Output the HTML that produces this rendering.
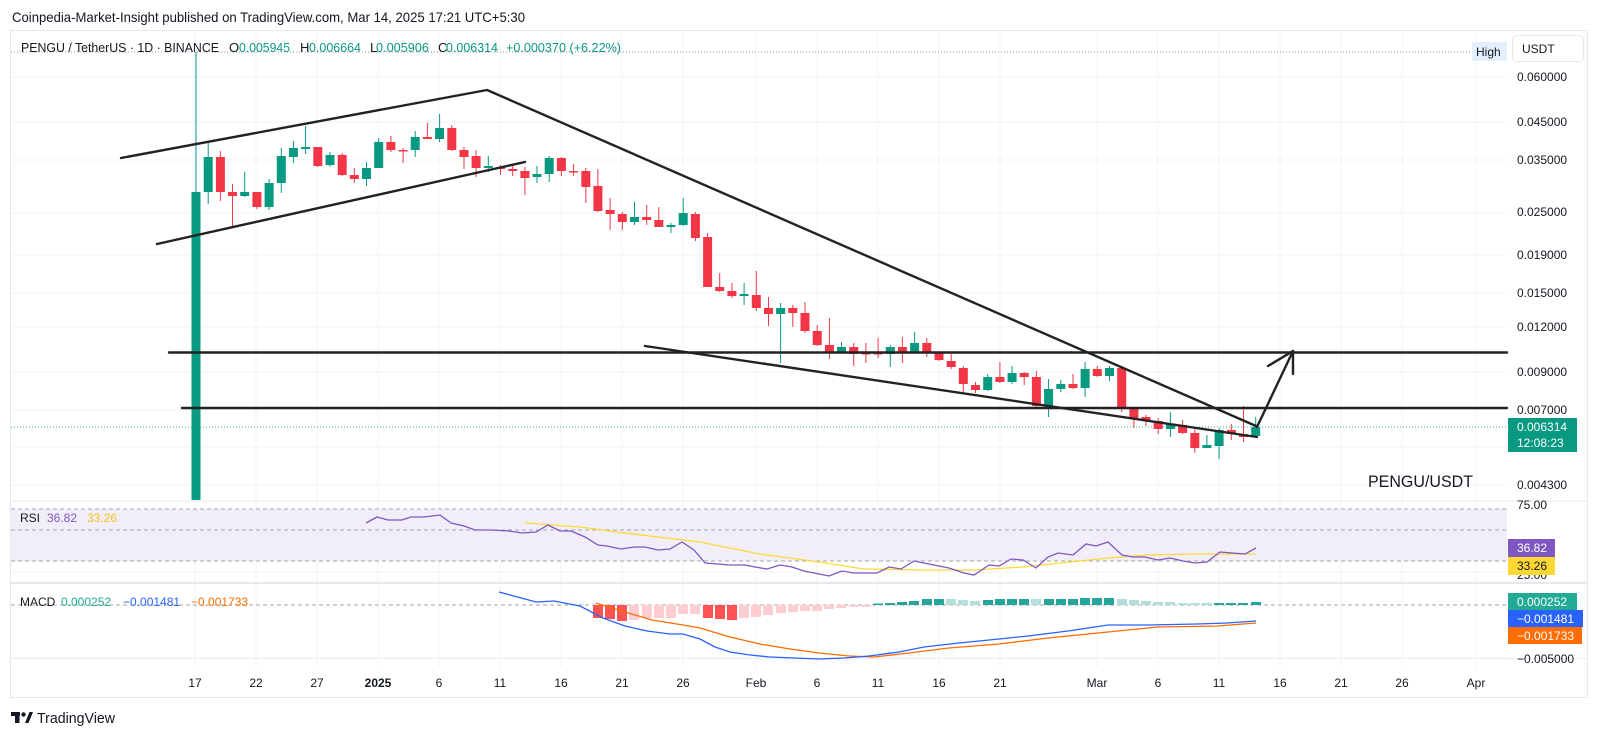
<!DOCTYPE html>
<html><head><meta charset="utf-8"><style>
html,body{margin:0;padding:0;background:#fff;}
svg{display:block;}
text{font-family:"Liberation Sans",Arial,sans-serif;}
</style></head><body>
<svg width="1600" height="737" viewBox="0 0 1600 737" xmlns="http://www.w3.org/2000/svg">
<rect width="1600" height="737" fill="#fff"/>
<!-- title -->
<text x="12" y="22" font-size="14" fill="#131722" textLength="513" lengthAdjust="spacingAndGlyphs">Coinpedia-Market-Insight published on TradingView.com, Mar 14, 2025 17:21 UTC+5:30</text>
<!-- frame -->
<rect x="10.5" y="30.5" width="1577" height="667" fill="none" stroke="#e6e8ee" stroke-width="1"/>
<!-- horizontal grid main -->
<g stroke="#f2f3f6" stroke-width="1">
<line x1="11" y1="77" x2="1507" y2="77"/>
<line x1="11" y1="122" x2="1507" y2="122"/>
<line x1="11" y1="160" x2="1507" y2="160"/>
<line x1="11" y1="213" x2="1507" y2="213"/>
<line x1="11" y1="255" x2="1507" y2="255"/>
<line x1="11" y1="293" x2="1507" y2="293"/>
<line x1="11" y1="327" x2="1507" y2="327"/>
<line x1="11" y1="372" x2="1507" y2="372"/>
<line x1="11" y1="410" x2="1507" y2="410"/>
<line x1="11" y1="447" x2="1507" y2="447"/>
<line x1="11" y1="485" x2="1507" y2="485"/>
<line x1="11" y1="572" x2="1507" y2="572"/>
<line x1="11" y1="658" x2="1507" y2="658"/>
</g>
<!-- vertical grid -->
<g stroke="#f2f3f6" stroke-width="1">
<line x1="195" y1="31" x2="195" y2="667"/>
<line x1="256" y1="31" x2="256" y2="667"/>
<line x1="317" y1="31" x2="317" y2="667"/>
<line x1="378" y1="31" x2="378" y2="667"/>
<line x1="439" y1="31" x2="439" y2="667"/>
<line x1="500" y1="31" x2="500" y2="667"/>
<line x1="561" y1="31" x2="561" y2="667"/>
<line x1="622" y1="31" x2="622" y2="667"/>
<line x1="683" y1="31" x2="683" y2="667"/>
<line x1="756" y1="31" x2="756" y2="667"/>
<line x1="817" y1="31" x2="817" y2="667"/>
<line x1="878" y1="31" x2="878" y2="667"/>
<line x1="939" y1="31" x2="939" y2="667"/>
<line x1="1000" y1="31" x2="1000" y2="667"/>
<line x1="1097" y1="31" x2="1097" y2="667"/>
<line x1="1158" y1="31" x2="1158" y2="667"/>
<line x1="1219" y1="31" x2="1219" y2="667"/>
<line x1="1280" y1="31" x2="1280" y2="667"/>
<line x1="1341" y1="31" x2="1341" y2="667"/>
<line x1="1402" y1="31" x2="1402" y2="667"/>
<line x1="1476" y1="31" x2="1476" y2="667"/>
</g>
<!-- pane separators -->
<line x1="11" y1="501" x2="1587" y2="501" stroke="#e6e8ee" stroke-width="1"/>
<line x1="11" y1="583" x2="1587" y2="583" stroke="#e6e8ee" stroke-width="2"/>
<line x1="11" y1="658.5" x2="1587" y2="658.5" stroke="#eceef2" stroke-width="1"/>
<!-- RSI band -->
<rect x="11" y="509" width="1496" height="52" fill="#f1edf9"/>
<g stroke="#a3a6af" stroke-width="1" stroke-dasharray="4 3">
<line x1="11" y1="509" x2="1507" y2="509"/>
<line x1="11" y1="530" x2="1507" y2="530"/>
<line x1="11" y1="561" x2="1507" y2="561"/>
<line x1="11" y1="605" x2="1507" y2="605"/>
</g>
<!-- high dotted line -->
<line x1="11" y1="52" x2="1472" y2="52" stroke="#9598a1" stroke-width="1" stroke-dasharray="1 2"/>
<!-- current price dotted -->
<line x1="11" y1="427" x2="1507" y2="427" stroke="#089981" stroke-width="1" stroke-dasharray="1 2" opacity="0.8"/>

<!-- green candles -->
<g fill="#089981" stroke="#089981" stroke-width="1">
<line x1="196" y1="52" x2="196" y2="192"/><rect x="191.5" y="192" width="9" height="308" stroke="none"/>
<line x1="208.2" y1="142" x2="208.2" y2="204"/><rect x="203.7" y="157" width="9" height="35" stroke="none"/>
<line x1="244.7" y1="172" x2="244.7" y2="197"/><rect x="240.2" y="192" width="9" height="4" stroke="none"/>
<line x1="269.1" y1="179" x2="269.1" y2="210"/><rect x="264.6" y="183" width="9" height="24" stroke="none"/>
<line x1="281.3" y1="148" x2="281.3" y2="193"/><rect x="276.8" y="156" width="9" height="27" stroke="none"/>
<line x1="293.4" y1="141" x2="293.4" y2="163"/><rect x="288.9" y="148" width="9" height="9" stroke="none"/>
<line x1="305.6" y1="126" x2="305.6" y2="154"/><rect x="301.1" y="147" width="9" height="2" stroke="none"/>
<line x1="330" y1="152" x2="330" y2="167"/><rect x="325.5" y="155" width="9" height="10" stroke="none"/>
<line x1="366.5" y1="162" x2="366.5" y2="186"/><rect x="362" y="168" width="9" height="11" stroke="none"/>
<line x1="378.7" y1="138" x2="378.7" y2="168"/><rect x="374.2" y="142" width="9" height="26" stroke="none"/>
<line x1="415.2" y1="131" x2="415.2" y2="157"/><rect x="410.7" y="137" width="9" height="13" stroke="none"/>
<line x1="439.6" y1="114" x2="439.6" y2="142"/><rect x="435.1" y="128" width="9" height="11" stroke="none"/>
<line x1="488.3" y1="156" x2="488.3" y2="172"/><rect x="483.8" y="166" width="9" height="2" stroke="none"/>
<line x1="537" y1="166" x2="537" y2="183"/><rect x="532.5" y="174" width="9" height="3" stroke="none"/>
<line x1="549.2" y1="156" x2="549.2" y2="182"/><rect x="544.7" y="158" width="9" height="16" stroke="none"/>
<line x1="634.5" y1="202" x2="634.5" y2="225"/><rect x="630" y="217" width="9" height="5" stroke="none"/>
<line x1="671" y1="223" x2="671" y2="233"/><rect x="666.5" y="225" width="9" height="2" stroke="none"/>
<line x1="683.2" y1="198" x2="683.2" y2="226"/><rect x="678.7" y="213" width="9" height="12" stroke="none"/>
<line x1="744.1" y1="283" x2="744.1" y2="305"/><rect x="739.6" y="294" width="9" height="2" stroke="none"/>
<line x1="780.6" y1="303" x2="780.6" y2="363"/><rect x="776.1" y="308" width="9" height="6" stroke="none"/>
<line x1="841.5" y1="342" x2="841.5" y2="354"/><rect x="837" y="347" width="9" height="6" stroke="none"/>
<line x1="890.3" y1="345" x2="890.3" y2="367"/><rect x="885.8" y="347" width="9" height="7" stroke="none"/>
<line x1="914.6" y1="332" x2="914.6" y2="354"/><rect x="910.1" y="343" width="9" height="10" stroke="none"/>
<line x1="987.7" y1="374" x2="987.7" y2="391"/><rect x="983.2" y="377" width="9" height="13" stroke="none"/>
<line x1="1012.1" y1="366" x2="1012.1" y2="384"/><rect x="1007.6" y="373" width="9" height="9" stroke="none"/>
<line x1="1048.6" y1="379" x2="1048.6" y2="417"/><rect x="1044.1" y="389" width="9" height="17" stroke="none"/>
<line x1="1060.8" y1="380" x2="1060.8" y2="392"/><rect x="1056.3" y="384" width="9" height="5" stroke="none"/>
<line x1="1085.1" y1="362" x2="1085.1" y2="397"/><rect x="1080.6" y="369" width="9" height="19" stroke="none"/>
<line x1="1109.5" y1="366" x2="1109.5" y2="381"/><rect x="1105" y="368" width="9" height="8" stroke="none"/>
<line x1="1170.4" y1="412" x2="1170.4" y2="437"/><rect x="1165.9" y="424" width="9" height="5" stroke="none"/>
<line x1="1206.9" y1="435" x2="1206.9" y2="448"/><rect x="1202.4" y="445" width="9" height="3" stroke="none"/>
<line x1="1219.1" y1="428" x2="1219.1" y2="459"/><rect x="1214.6" y="430" width="9" height="16" stroke="none"/>
<line x1="1255.7" y1="417" x2="1255.7" y2="437"/><rect x="1251.2" y="427" width="9" height="9" stroke="none"/>
</g>
<!-- red candles -->
<g fill="#F23645" stroke="#F23645" stroke-width="1">
<line x1="220.4" y1="151" x2="220.4" y2="201"/><rect x="215.9" y="157" width="9" height="35" stroke="none"/>
<line x1="232.5" y1="184" x2="232.5" y2="227"/><rect x="228" y="192" width="9" height="4" stroke="none"/>
<line x1="256.9" y1="192" x2="256.9" y2="209"/><rect x="252.4" y="192" width="9" height="15" stroke="none"/>
<line x1="317.8" y1="147" x2="317.8" y2="167"/><rect x="313.3" y="147" width="9" height="19" stroke="none"/>
<line x1="342.2" y1="153" x2="342.2" y2="176"/><rect x="337.7" y="155" width="9" height="20" stroke="none"/>
<line x1="354.3" y1="168" x2="354.3" y2="183"/><rect x="349.8" y="175" width="9" height="4" stroke="none"/>
<line x1="390.9" y1="136" x2="390.9" y2="152"/><rect x="386.4" y="142" width="9" height="8" stroke="none"/>
<line x1="403.1" y1="148" x2="403.1" y2="163"/><rect x="398.6" y="150" width="9" height="1.5" stroke="none"/>
<line x1="427.4" y1="123" x2="427.4" y2="139"/><rect x="422.9" y="137" width="9" height="2" stroke="none"/>
<line x1="451.8" y1="125" x2="451.8" y2="151"/><rect x="447.3" y="128" width="9" height="22" stroke="none"/>
<line x1="464" y1="147" x2="464" y2="169"/><rect x="459.5" y="150" width="9" height="7" stroke="none"/>
<line x1="476.1" y1="150" x2="476.1" y2="177"/><rect x="471.6" y="156" width="9" height="12" stroke="none"/>
<line x1="500.5" y1="165" x2="500.5" y2="175"/><rect x="496" y="167" width="9" height="2" stroke="none"/>
<line x1="512.7" y1="165" x2="512.7" y2="176"/><rect x="508.2" y="169" width="9" height="2" stroke="none"/>
<line x1="524.9" y1="167" x2="524.9" y2="195"/><rect x="520.4" y="171" width="9" height="7" stroke="none"/>
<line x1="561.4" y1="157" x2="561.4" y2="176"/><rect x="556.9" y="158" width="9" height="13" stroke="none"/>
<line x1="573.6" y1="164" x2="573.6" y2="176"/><rect x="569.1" y="171" width="9" height="1.5" stroke="none"/>
<line x1="585.8" y1="168" x2="585.8" y2="203"/><rect x="581.3" y="171" width="9" height="16" stroke="none"/>
<line x1="597.9" y1="169" x2="597.9" y2="212"/><rect x="593.4" y="186" width="9" height="25" stroke="none"/>
<line x1="610.1" y1="198" x2="610.1" y2="230"/><rect x="605.6" y="210" width="9" height="4" stroke="none"/>
<line x1="622.3" y1="212" x2="622.3" y2="230"/><rect x="617.8" y="214" width="9" height="8" stroke="none"/>
<line x1="646.7" y1="205" x2="646.7" y2="225"/><rect x="642.2" y="217" width="9" height="3" stroke="none"/>
<line x1="658.8" y1="207" x2="658.8" y2="227"/><rect x="654.3" y="220" width="9" height="7" stroke="none"/>
<line x1="695.4" y1="212" x2="695.4" y2="241"/><rect x="690.9" y="214" width="9" height="24" stroke="none"/>
<line x1="707.6" y1="233" x2="707.6" y2="287"/><rect x="703.1" y="237" width="9" height="50" stroke="none"/>
<line x1="719.7" y1="273" x2="719.7" y2="292"/><rect x="715.2" y="287" width="9" height="4" stroke="none"/>
<line x1="731.9" y1="283" x2="731.9" y2="298"/><rect x="727.4" y="291" width="9" height="5" stroke="none"/>
<line x1="756.3" y1="271" x2="756.3" y2="311"/><rect x="751.8" y="295" width="9" height="13" stroke="none"/>
<line x1="768.5" y1="297" x2="768.5" y2="326"/><rect x="764" y="308" width="9" height="6" stroke="none"/>
<line x1="792.8" y1="305" x2="792.8" y2="327"/><rect x="788.3" y="308" width="9" height="5" stroke="none"/>
<line x1="805" y1="302" x2="805" y2="333"/><rect x="800.5" y="313" width="9" height="18" stroke="none"/>
<line x1="817.2" y1="325" x2="817.2" y2="346"/><rect x="812.7" y="331" width="9" height="14" stroke="none"/>
<line x1="829.4" y1="318" x2="829.4" y2="359"/><rect x="824.9" y="345" width="9" height="8" stroke="none"/>
<line x1="853.7" y1="343" x2="853.7" y2="366"/><rect x="849.2" y="347" width="9" height="7" stroke="none"/>
<line x1="865.9" y1="343" x2="865.9" y2="363"/><rect x="861.4" y="353" width="9" height="1.5" stroke="none"/>
<line x1="878.1" y1="338" x2="878.1" y2="358"/><rect x="873.6" y="353" width="9" height="1.5" stroke="none"/>
<line x1="902.4" y1="337" x2="902.4" y2="363"/><rect x="897.9" y="347" width="9" height="6" stroke="none"/>
<line x1="926.8" y1="338" x2="926.8" y2="357"/><rect x="922.3" y="343" width="9" height="10" stroke="none"/>
<line x1="939" y1="352" x2="939" y2="361"/><rect x="934.5" y="353" width="9" height="7" stroke="none"/>
<line x1="951.2" y1="354" x2="951.2" y2="369"/><rect x="946.7" y="361" width="9" height="6" stroke="none"/>
<line x1="963.3" y1="366" x2="963.3" y2="393"/><rect x="958.8" y="368" width="9" height="16" stroke="none"/>
<line x1="975.5" y1="382" x2="975.5" y2="393"/><rect x="971" y="385" width="9" height="5" stroke="none"/>
<line x1="999.9" y1="362" x2="999.9" y2="383"/><rect x="995.4" y="377" width="9" height="5" stroke="none"/>
<line x1="1024.2" y1="372" x2="1024.2" y2="385"/><rect x="1019.7" y="373" width="9" height="4" stroke="none"/>
<line x1="1036.4" y1="371" x2="1036.4" y2="408"/><rect x="1031.9" y="377" width="9" height="29" stroke="none"/>
<line x1="1073" y1="374" x2="1073" y2="389"/><rect x="1068.5" y="384" width="9" height="4" stroke="none"/>
<line x1="1097.3" y1="366" x2="1097.3" y2="377"/><rect x="1092.8" y="369" width="9" height="7" stroke="none"/>
<line x1="1121.7" y1="367" x2="1121.7" y2="412"/><rect x="1117.2" y="368" width="9" height="40" stroke="none"/>
<line x1="1133.9" y1="407" x2="1133.9" y2="428"/><rect x="1129.4" y="408" width="9" height="10" stroke="none"/>
<line x1="1146" y1="415" x2="1146" y2="426"/><rect x="1141.5" y="417" width="9" height="4" stroke="none"/>
<line x1="1158.2" y1="418" x2="1158.2" y2="434"/><rect x="1153.7" y="421" width="9" height="8" stroke="none"/>
<line x1="1182.6" y1="420" x2="1182.6" y2="434"/><rect x="1178.1" y="425" width="9" height="8" stroke="none"/>
<line x1="1194.8" y1="428" x2="1194.8" y2="453"/><rect x="1190.3" y="433" width="9" height="15" stroke="none"/>
<line x1="1231.3" y1="424" x2="1231.3" y2="440"/><rect x="1226.8" y="430" width="9" height="4" stroke="none"/>
<line x1="1243.5" y1="406" x2="1243.5" y2="442"/><rect x="1239" y="434" width="9" height="3" stroke="none"/>
</g>

<!-- drawn trend lines -->
<g stroke="#222" stroke-width="2.4" fill="none" stroke-linecap="round" stroke-linejoin="round">
<polyline points="121,158 487,90 1256,426"/>
<line x1="157" y1="244" x2="525" y2="162"/>
<line x1="169" y1="352.5" x2="1507" y2="352.5"/>
<line x1="182" y1="408" x2="1507" y2="408"/>
<line x1="645" y1="346" x2="1257" y2="437"/>
<line x1="1257" y1="427" x2="1293" y2="351"/>
<polyline points="1268,366 1293,351 1293,374"/>
</g>

<!-- header -->
<g font-size="13" fill="#131722">
<text x="21" y="52" textLength="198" lengthAdjust="spacingAndGlyphs">PENGU / TetherUS · 1D · BINANCE</text>
<text x="229" y="52">O</text>
<text x="300" y="52">H</text>
<text x="370" y="52">L</text>
<text x="438" y="52">C</text>
</g>
<g font-size="13" fill="#089981">
<text x="239" y="52" textLength="51" lengthAdjust="spacingAndGlyphs">0.005945</text>
<text x="309" y="52" textLength="52" lengthAdjust="spacingAndGlyphs">0.006664</text>
<text x="376" y="52" textLength="53" lengthAdjust="spacingAndGlyphs">0.005906</text>
<text x="446" y="52" textLength="52" lengthAdjust="spacingAndGlyphs">0.006314</text>
<text x="506" y="52" textLength="115" lengthAdjust="spacingAndGlyphs">+0.000370 (+6.22%)</text>
</g>

<!-- High label and USDT -->
<rect x="1472" y="42" width="35" height="19" fill="#e3effd"/>
<text x="1476" y="56" font-size="12" fill="#131722">High</text>
<rect x="1512.5" y="35.5" width="71" height="26" rx="4" fill="#fff" stroke="#e6e8ee"/>
<text x="1522" y="53" font-size="12" fill="#131722">USDT</text>

<!-- price axis labels -->
<g font-size="12" fill="#131722">
<text x="1517" y="81">0.060000</text>
<text x="1517" y="126">0.045000</text>
<text x="1517" y="164">0.035000</text>
<text x="1517" y="216">0.025000</text>
<text x="1517" y="259">0.019000</text>
<text x="1517" y="297">0.015000</text>
<text x="1517" y="331">0.012000</text>
<text x="1517" y="376">0.009000</text>
<text x="1517" y="414">0.007000</text>
<text x="1517" y="451">0.005500</text>
<text x="1517" y="489">0.004300</text>
<text x="1517" y="509">75.00</text>
<text x="1517" y="579">25.00</text>
<text x="1517" y="663">−0.005000</text>
</g>
<!-- current price label -->
<rect x="1508" y="418" width="69" height="34" fill="#089981"/>
<text x="1517" y="431" font-size="12" fill="#fff">0.006314</text>
<text x="1517" y="447" font-size="12" fill="#fff">12:08:23</text>

<!-- PENGU/USDT -->
<text x="1368" y="487" font-size="17" fill="#131722" textLength="105" lengthAdjust="spacingAndGlyphs">PENGU/USDT</text>

<!-- RSI lines -->
<polyline fill="none" stroke="#FDD835" stroke-width="1.3" points="525,523 580,527 625,533 683,540 700,542 760,554 819,562 864,569 924,570 974,570 1023,567 1108,558 1148,555 1197,554 1256,554"/>
<polyline fill="none" stroke="#7E57C2" stroke-width="1.3" points="366,523 377,517 388,520 402,520 411,517 424,517 440,515 451,523 464,526 475,530 491,530 509,531 522,533 536,532 548,525 560,531 571,531 585,537 598,545 607,546 621,549 634,547 645,547 658,550 670,549 682,542 694,550 700,557 705,563 730,565 745,565 755,567 767,569 780,565 792,567 804,571 819,574 829,576 842,571 854,573 877,573 889,567 901,569 914,561 929,564 949,568 964,573 974,575 989,565 999,566 1011,559 1023,560 1036,568 1048,557 1058,553 1073,555 1086,544 1096,546 1108,542 1122,555 1133,557 1145,557 1158,560 1170,558 1183,561 1195,563 1207,562 1220,552 1232,553 1245,554 1256,548"/>
<g font-size="12">
<text x="20" y="522" fill="#131722">RSI</text>
<text x="47" y="522" fill="#7E57C2">36.82</text>
<text x="87" y="522" fill="#F5C518">33.26</text>
</g>
<rect x="1508" y="539" width="47" height="18" fill="#7E57C2"/>
<text x="1517" y="552" font-size="12" fill="#fff">36.82</text>
<rect x="1508" y="557" width="47" height="18" fill="#FDD835"/>
<text x="1517" y="570" font-size="12" fill="#131722">33.26</text>

<!-- MACD histogram -->
<g fill="#FF5252">
<rect x="593" y="605" width="10" height="13"/>
<rect x="605" y="605" width="10" height="14"/>
<rect x="617" y="605" width="10" height="16"/>
<rect x="703" y="605" width="10" height="13"/>
<rect x="715" y="605" width="10" height="14"/>
<rect x="727" y="605" width="10" height="15"/>
</g>
<g fill="#FFCDD2">
<rect x="629" y="605" width="10" height="15"/>
<rect x="642" y="605" width="10" height="13"/>
<rect x="654" y="605" width="10" height="13"/>
<rect x="666" y="605" width="10" height="13"/>
<rect x="678" y="605" width="10" height="9"/>
<rect x="690" y="605" width="10" height="9"/>
<rect x="739" y="605" width="10" height="13"/>
<rect x="751" y="605" width="10" height="12"/>
<rect x="763" y="605" width="10" height="10"/>
<rect x="776" y="605" width="10" height="8"/>
<rect x="788" y="605" width="10" height="7"/>
<rect x="800" y="605" width="10" height="6"/>
<rect x="812" y="605" width="10" height="6"/>
<rect x="824" y="605" width="10" height="4"/>
<rect x="836" y="605" width="10" height="3"/>
<rect x="849" y="605" width="10" height="2"/>
<rect x="861" y="605" width="10" height="2"/>
</g>
<g fill="#26A69A">
<rect x="873" y="603.5" width="10" height="1.5"/>
<rect x="885" y="603" width="10" height="2"/>
<rect x="897" y="602" width="10" height="3"/>
<rect x="909" y="601" width="10" height="4"/>
<rect x="922" y="599" width="10" height="6"/>
<rect x="934" y="599" width="10" height="6"/>
<rect x="983" y="600" width="10" height="5"/>
<rect x="995" y="599" width="10" height="6"/>
<rect x="1007" y="599" width="10" height="6"/>
<rect x="1019" y="599" width="10" height="6"/>
<rect x="1044" y="599" width="10" height="6"/>
<rect x="1056" y="599" width="10" height="6"/>
<rect x="1068" y="599" width="10" height="6"/>
<rect x="1080" y="598" width="10" height="7"/>
<rect x="1092" y="598" width="10" height="7"/>
<rect x="1104" y="598" width="10" height="7"/>
<rect x="1214" y="603" width="10" height="2"/>
<rect x="1226" y="603" width="10" height="2"/>
<rect x="1238" y="603" width="10" height="2"/>
<rect x="1251" y="602" width="10" height="3"/>
</g>
<g fill="#B2DFDB">
<rect x="946" y="599" width="10" height="6"/>
<rect x="958" y="600" width="10" height="5"/>
<rect x="970" y="601" width="10" height="4"/>
<rect x="1031" y="599" width="10" height="6"/>
<rect x="1117" y="599" width="10" height="6"/>
<rect x="1129" y="600" width="10" height="5"/>
<rect x="1141" y="601" width="10" height="4"/>
<rect x="1153" y="602" width="10" height="3"/>
<rect x="1165" y="602" width="10" height="3"/>
<rect x="1178" y="603" width="10" height="2"/>
<rect x="1190" y="603" width="10" height="2"/>
<rect x="1202" y="603" width="10" height="2"/>
</g>
<!-- MACD lines -->
<polyline fill="none" stroke="#FF6D00" stroke-width="1.3" points="596,603 625,612 652,620 683,625 700,628 730,637 760,644 790,649 819,653 849,656 874,657 909,653 949,648 999,644 1048,638 1108,632 1158,627 1217,626 1256,623"/>
<polyline fill="none" stroke="#2962FF" stroke-width="1.3" points="499,592 536,602 554,601 580,606 603,618 625,626 647,631 670,634 683,634 700,639 715,647 730,652 750,655 770,657 819,659 844,658 869,656 899,652 924,647 959,643 999,639 1028,636 1068,631 1108,625 1148,625 1197,624 1227,623 1256,621"/>
<g font-size="12">
<text x="20" y="606" fill="#131722">MACD</text>
<text x="61" y="606" fill="#22AB94">0.000252</text>
<text x="123" y="606" fill="#2962FF">−0.001481</text>
<text x="191" y="606" fill="#FF6D00">−0.001733</text>
</g>
<rect x="1508" y="593" width="69" height="17" fill="#22AB94"/>
<text x="1517" y="606" font-size="12" fill="#fff">0.000252</text>
<rect x="1508" y="610" width="75" height="17" fill="#2962FF"/>
<text x="1517" y="623" font-size="12" fill="#fff">−0.001481</text>
<rect x="1508" y="627" width="74" height="17" fill="#FF6D00"/>
<text x="1517" y="640" font-size="12" fill="#fff">−0.001733</text>

<!-- time axis -->
<g font-size="12" fill="#131722" text-anchor="middle">
<text x="195" y="687">17</text>
<text x="256" y="687">22</text>
<text x="317" y="687">27</text>
<text x="378" y="687" font-weight="bold">2025</text>
<text x="439" y="687">6</text>
<text x="500" y="687">11</text>
<text x="561" y="687">16</text>
<text x="622" y="687">21</text>
<text x="683" y="687">26</text>
<text x="756" y="687">Feb</text>
<text x="817" y="687">6</text>
<text x="878" y="687">11</text>
<text x="939" y="687">16</text>
<text x="1000" y="687">21</text>
<text x="1097" y="687">Mar</text>
<text x="1158" y="687">6</text>
<text x="1219" y="687">11</text>
<text x="1280" y="687">16</text>
<text x="1341" y="687">21</text>
<text x="1402" y="687">26</text>
<text x="1476" y="687">Apr</text>
</g>

<!-- TradingView logo -->
<g fill="#131722">
<rect x="11" y="712" width="9" height="4"/>
<rect x="15" y="712" width="4.5" height="11"/>
<circle cx="23.5" cy="714.5" r="2.2"/>
<polygon points="25,723 29.5,712 33,712 28.5,723"/>
</g>
<text x="37" y="723" font-size="15" fill="#131722" textLength="78" lengthAdjust="spacingAndGlyphs">TradingView</text>
</svg>
</body></html>
